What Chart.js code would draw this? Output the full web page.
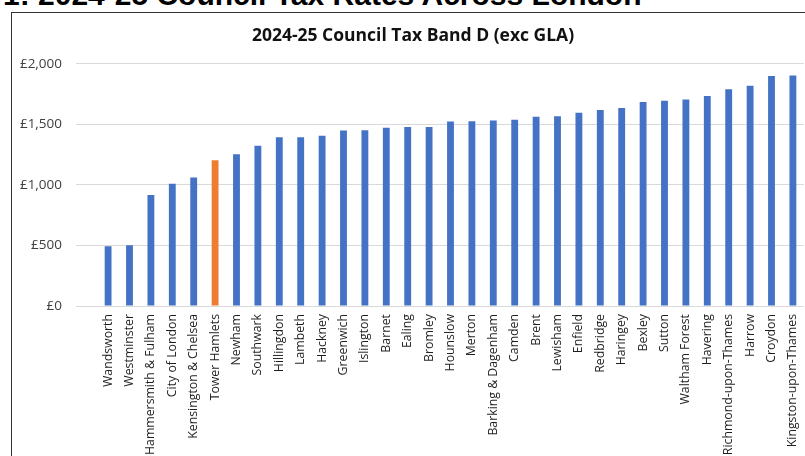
<!DOCTYPE html>
<html><head><meta charset="utf-8">
<script src="https://cdn.jsdelivr.net/npm/chart.js@4/dist/chart.umd.min.js"></script>
<style>
html,body{margin:0;padding:0;background:#fff;width:805px;height:456px;overflow:hidden;position:relative}
#heading{position:absolute;left:3px;top:-20px;font:bold 30px "Liberation Sans",Arial,sans-serif;line-height:30px;white-space:nowrap;color:#000}
#box{position:absolute;left:11px;top:12px;width:806px;height:470px;border:1px solid #333;box-sizing:border-box;background:#fff}
#wrap{position:absolute;left:0;top:13px;width:826px;height:460px}
</style></head><body>
<div id="heading">1: 2024-25 Council Tax Rates Across London</div>
<div id="box"></div>
<div id="wrap"><canvas id="c" width="826" height="460"></canvas></div>
<script>
const chartTitle = "2024-25 Council Tax Band D (exc GLA)";
const boroughs = ["", "Wandsworth", "Westminster", "Hammersmith & Fulham", "City of London", "Kensington & Chelsea",
  "Tower Hamlets", "Newham", "Southwark", "Hillingdon", "Lambeth", "Hackney", "Greenwich", "Islington",
  "Barnet", "Ealing", "Bromley", "Hounslow", "Merton", "Barking & Dagenham", "Camden", "Brent", "Lewisham",
  "Enfield", "Redbridge", "Haringey", "Bexley", "Sutton", "Waltham Forest", "Havering",
  "Richmond-upon-Thames", "Harrow", "Croydon", "Kingston-upon-Thames"];
const bandD = [null, 494, 501, 917, 1009, 1060, 1203, 1252, 1323, 1392, 1393, 1405, 1449, 1450,
  1471, 1477, 1478, 1523, 1526, 1532, 1537, 1562, 1567, 1595, 1617, 1634, 1683, 1694, 1705, 1733,
  1790, 1818, 1898, 1903];
const highlighted = ["Tower Hamlets"];
const yTicks = [0, 500, 1000, 1500, 2000];

const blue = "#4472C4", orange = "#ED7D31";
const barColors = boroughs.map(b => highlighted.includes(b) ? orange : blue);
const fmt = v => "£" + v.toLocaleString("en-GB");

new Chart(document.getElementById("c"), {
  type: "bar",
  data: { labels: boroughs, datasets: [{ data: bandD, backgroundColor: barColors, borderWidth: 0,
    barPercentage: 0.32, categoryPercentage: 1 }] },
  options: {
    responsive: false, animation: false, devicePixelRatio: 1,
    layout: { padding: { left: 0, right: 0, top: 12.8, bottom: 0 } },
    plugins: {
      legend: { display: false }, tooltip: { enabled: false },
      title: { display: true, text: chartTitle, color: "#111",
        font: { family: "'Open Sans', sans-serif", size: 17.5, weight: "bold", lineHeight: 1.2 },
        padding: { top: 0, bottom: 16.9 } }
    },
    scales: {
      x: {
        grid: { display: false, drawTicks: false }, border: { display: false },
        ticks: { autoSkip: false, minRotation: 90, maxRotation: 90, padding: 8, color: "#1f1f1f",
          font: { family: "'Open Sans', sans-serif", size: 12.3 } },
        afterFit: s => { s.height = 167; }
      },
      y: {
        min: 0, max: 2000,
        afterBuildTicks: s => { s.ticks = yTicks.map(v => ({ value: v })); },
        grid: { color: "#d9d9d9", lineWidth: 1, drawTicks: false }, border: { display: false },
        ticks: { padding: 14, color: "#404040", callback: v => fmt(v),
          font: { family: "'Open Sans', sans-serif", size: 13.5 } },
        afterFit: s => { s.width = 76; }
      },
      margin: {
        position: "right", display: true,
        grid: { display: false, drawTicks: false }, border: { display: false },
        ticks: { display: false },
        afterFit: s => { s.width = 22.4; }
      }
    }
  }
});
</script>
</body></html>
